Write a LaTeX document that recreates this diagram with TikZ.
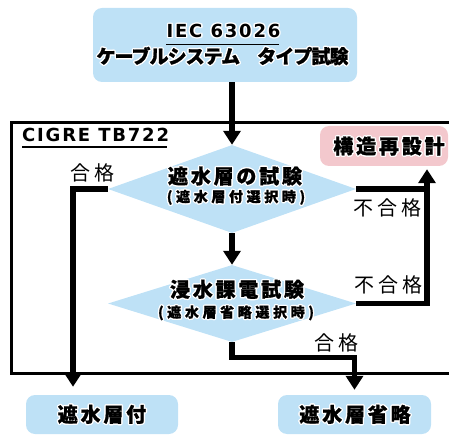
\documentclass[tikz,border=0pt]{standalone}
\usepackage{fontspec}
\usepackage[copies]{contour}
\usetikzlibrary{arrows.meta,shapes.geometric}
\newfontfamily\jpbig[LetterSpace=14,BoldFeatures={FakeBold=1}]{Noto Sans CJK JP}
\newfontfamily\jplbl[LetterSpace=20]{Noto Sans CJK JP}
\newfontfamily\jptitle[LetterSpace=-5,BoldFeatures={FakeBold=1}]{Noto Sans CJK JP}
\newfontfamily\jpsmall[LetterSpace=26,BoldFeatures={FakeBold=0.8}]{Noto Sans CJK JP}
\newfontfamily\latb[LetterSpace=10]{DejaVu Sans}
\definecolor{lblue}{RGB}{190,225,246}
\definecolor{lpink}{RGB}{243,200,205}
\contourlength{1.3pt}
\contournumber{12}
\newcommand{\glow}[1]{\contour{white}{#1}}
\begin{document}
\begin{tikzpicture}[x=1pt,y=-1pt,
  bx/.style={fill=lblue,rounded corners=9pt,draw=none,inner sep=0pt},
  dia/.style={diamond,fill=lblue,draw=none,inner sep=0pt},
  bigtxt/.style={inner sep=0pt,font=\fontsize{20}{22}\jpbig\bfseries},
  titletxt/.style={inner sep=0pt,font=\fontsize{19}{21}\jptitle\bfseries},
  smalltxt/.style={inner sep=0pt,font=\fontsize{14}{16}\jpsmall\bfseries},
  lattxt/.style={inner sep=0pt,font=\fontsize{18}{20}\latb\bfseries},
  lbl/.style={inner sep=0pt,font=\fontsize{20}{22}\jplbl},
  conn/.style={line width=5.5pt,line join=miter,line cap=butt},
  arr/.style={conn,-{Triangle[width=17pt,length=14pt]}},
  frame/.style={line width=3pt}]
\useasboundingbox (0,0) rectangle (449,435);
% frame
\draw[frame] (470,122.5) -- (11.5,122.5) -- (11.5,373) -- (470,373);
% boxes
\node[bx,minimum width=264pt,minimum height=74pt] (top) at (225,45) {};
\node[bx,fill=lpink,minimum width=128pt,minimum height=40pt] (rb) at (384,146) {};
\node[bx,minimum width=152pt,minimum height=39pt] (b1) at (102,414.5) {};
\node[bx,minimum width=153pt,minimum height=39pt] (b2) at (354.5,414.5) {};
% diamonds
\node[dia,minimum width=248pt,minimum height=88pt] (d1) at (232,189) {};
\node[dia,minimum width=248pt,minimum height=77pt] (d2) at (232,303.5) {};
% texts
\node[lattxt] (iec) at (223.5,31.7) {\glow{IEC 63026}};
\draw[line width=1.3pt] ([yshift=-5pt]iec.south west) -- ([yshift=-5pt,xshift=-2pt]iec.south east);
\node[titletxt] (ttl) at (222.5,56.7) {\glow{ケーブルシステム　タイプ試験}};
\node[lattxt,anchor=west] (cig) at (22,135) {CIGRE TB722};
\draw[line width=1.3pt] ([yshift=-5pt]cig.south west) -- ([yshift=-5pt,xshift=-2pt]cig.south east);
\node[bigtxt] (rbt) at (389,146.7) {\glow{構造再設計}};
\node[bigtxt] (d1a) at (235,176.7) {\glow{遮水層の試験}};
\node[smalltxt] (d1b) at (236,198) {\glow{(遮水層付選択時)}};
\node[bigtxt] (d2a) at (237,290) {\glow{浸水課電試験}};
\node[smalltxt] (d2b) at (236,313.5) {\glow{(遮水層省略選択時)}};
\node[bigtxt] (b1t) at (102,415) {\glow{遮水層付}};
\node[bigtxt] (b2t) at (355,415) {\glow{遮水層省略}};
\node[lbl] (l1) at (92,173) {合格};
\node[lbl] (l2) at (387,207.5) {不合格};
\node[lbl] (l3) at (388,284.5) {不合格};
\node[lbl] (l4) at (336,342.5) {合格};
% connectors
\coordinate (rx) at (427,0);
\coordinate (lx) at (73,0);
\coordinate (by) at (0,357.5);
\draw[arr] (d1.north |- top.south) -- (d1.north);
\draw[arr] (d1.south) -- (d2.north);
\draw[arr,shorten >=8pt] (d1.west) -| (lx |- b1.north);
\draw[conn] (d1.east) -- (d1.east -| rx);
\draw[arr,shorten >=3pt] (d2.east) -| (rx |- rb.south);
\draw[arr,shorten >=5pt] (d2.south) -- (d2.south |- by) -| (b2.north);
\end{tikzpicture}
\end{document}
